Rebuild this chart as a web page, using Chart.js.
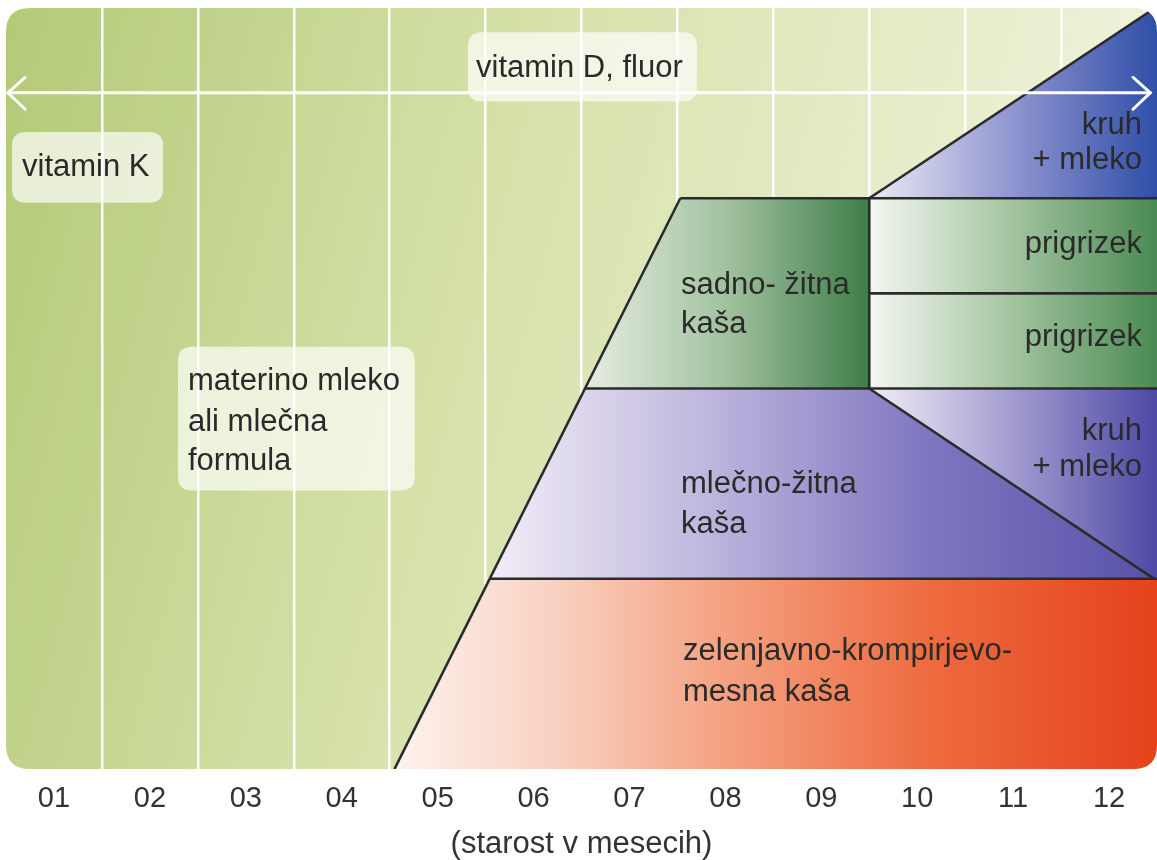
<!DOCTYPE html>
<html>
<head>
<meta charset="utf-8">
<script src="https://cdn.jsdelivr.net/npm/chart.js@4.4.1/dist/chart.umd.min.js"></script>
<style>
  html, body { margin: 0; padding: 0; background: #ffffff; }
  #wrap { width: 1157px; height: 860px; }
</style>
</head>
<body>
<div id="wrap"><canvas id="c" width="1157" height="860"></canvas></div>
<script>
// ---------------- data (months on x, pyramid level on y) ----------------
const monthLabels = ['01','02','03','04','05','06','07','08','09','10','11','12'];
const axisTitle = '(starost v mesecih)';

// pyramid layers (polygons, x = month, y = level)
const zelenjavnaKasa  = [{x:4.05,y:0},{x:5.04,y:25},{x:12,y:25},{x:12,y:0}];
const mlecnoZitnaKasa = [{x:5.04,y:25},{x:6.04,y:50},{x:9,y:50},{x:11.97,y:25}];
const kruhMlekoSpodaj = [{x:9,y:50},{x:12,y:50},{x:12,y:25},{x:11.97,y:25}];
const sadnoZitnaKasa  = [{x:6.04,y:50},{x:7.03,y:75},{x:9,y:75},{x:9,y:50}];
const prigrizekZgoraj = [{x:9,y:62.5},{x:9,y:75},{x:12,y:75},{x:12,y:62.5}];
const prigrizekSpodaj = [{x:9,y:50},{x:9,y:62.5},{x:12,y:62.5},{x:12,y:50}];
const kruhMlekoZgoraj = [{x:9,y:75},{x:11.98,y:100},{x:12,y:100},{x:12,y:75}];

// outline segments
const edgeSlant   = [{x:4.05,y:0},{x:7.03,y:75}];
const edge25      = [{x:5.04,y:25},{x:12,y:25}];
const edge50      = [{x:6.04,y:50},{x:12,y:50}];
const edge625     = [{x:9,y:62.5},{x:12,y:62.5}];
const edge75      = [{x:7.03,y:75},{x:12,y:75}];
const edgeVert    = [{x:9,y:50},{x:9,y:75}];
const edgeDiagLo  = [{x:9,y:50},{x:11.97,y:25}];
const edgeDiagUp  = [{x:9,y:75},{x:11.98,y:100}];

// vitamin D arrow (whole first year)
const arrowLine  = [{x:0.02,y:88.85},{x:11.93,y:88.85}];
const arrowLeft  = [{x:0.2,y:90.9},{x:0.02,y:88.85},{x:0.2,y:86.7}];
const arrowRight = [{x:11.75,y:90.9},{x:11.93,y:88.85},{x:11.75,y:86.7}];

// ---------------- styles / annotations ----------------
const FONT = '"Liberation Sans", Arial, Helvetica, sans-serif';
const TEXT_COLOR = '#2a2a2a';
const EDGE_COLOR = '#2b2b2b';

const boxes = [
  {x0:0.063, x1:1.637, y0:83.7, y1:74.4},
  {x0:4.816, x1:7.204, y0:96.8, y1:87.7},
  {x0:1.793, x1:4.26, y0:55.5, y1:36.6}
];
const texts = [
  {t:'vitamin K', x:0.167, y:79.0, a:'left'},
  {t:'vitamin D, fluor', x:4.90, y:92.1, a:'left'},
  {t:'materino mleko', x:1.897, y:50.9, a:'left'},
  {t:'ali mlečna', x:1.897, y:45.5, a:'left'},
  {t:'formula', x:1.897, y:40.4, a:'left'},
  {t:'sadno- žitna', x:7.037, y:63.6, a:'left'},
  {t:'kaša', x:7.037, y:58.4, a:'left'},
  {t:'prigrizek', x:11.843, y:68.9, a:'right'},
  {t:'prigrizek', x:11.843, y:56.7, a:'right'},
  {t:'kruh', x:11.843, y:84.6, a:'right'},
  {t:'+ mleko', x:11.843, y:80.0, a:'right'},
  {t:'kruh', x:11.843, y:44.4, a:'right'},
  {t:'+ mleko', x:11.843, y:39.6, a:'right'},
  {t:'mlečno-žitna', x:7.037, y:37.4, a:'left'},
  {t:'kaša', x:7.037, y:32.2, a:'left'},
  {t:'zelenjavno-krompirjevo-', x:7.058, y:15.5, a:'left'},
  {t:'mesna kaša', x:7.058, y:10.1, a:'left'}
];

function roundPath(ctx, l, t, w, h, r) {
  ctx.beginPath();
  ctx.moveTo(l + r, t);
  ctx.lineTo(l + w - r, t);
  ctx.quadraticCurveTo(l + w, t, l + w, t + r);
  ctx.lineTo(l + w, t + h - r);
  ctx.quadraticCurveTo(l + w, t + h, l + w - r, t + h);
  ctx.lineTo(l + r, t + h);
  ctx.quadraticCurveTo(l, t + h, l, t + h - r);
  ctx.lineTo(l, t + r);
  ctx.quadraticCurveTo(l, t, l + r, t);
  ctx.closePath();
}

function hGrad(x0, x1, stops, fallback) {
  return (c) => {
    const chart = c.chart;
    if (!chart.chartArea || !chart.scales.x) return fallback;
    const sx = chart.scales.x;
    const g = chart.ctx.createLinearGradient(sx.getPixelForValue(x0), 0, sx.getPixelForValue(x1), 0);
    stops.forEach(s => g.addColorStop(s[0], s[1]));
    return g;
  };
}

const panelPlugin = {
  id: 'panel',
  beforeDraw(chart) {
    const {ctx, chartArea: a} = chart;
    ctx.save();
    roundPath(ctx, a.left, a.top, a.right - a.left, a.bottom - a.top, 24);
    const g = ctx.createLinearGradient(0, 0, 1157, 300);
    g.addColorStop(0, '#b3c977');
    g.addColorStop(0.45, '#d6e2aa');
    g.addColorStop(1, '#f2f4e0');
    ctx.fillStyle = g;
    ctx.fill();
    ctx.restore();
  },
  beforeDatasetsDraw(chart) {
    const {ctx, chartArea: a} = chart;
    ctx.save();
    roundPath(ctx, a.left, a.top, a.right - a.left, a.bottom - a.top, 24);
    ctx.clip();
  },
  afterDatasetsDraw(chart) {
    const ctx = chart.ctx;
    ctx.restore();
    const sx = chart.scales.x, sy = chart.scales.y;
    ctx.save();
    boxes.forEach(b => {
      const l = sx.getPixelForValue(b.x0), r = sx.getPixelForValue(b.x1);
      const t = sy.getPixelForValue(b.y0), bt = sy.getPixelForValue(b.y1);
      roundPath(ctx, l, t, r - l, bt - t, 14);
      ctx.fillStyle = 'rgba(255,255,255,0.68)';
      ctx.fill();
    });
    ctx.fillStyle = TEXT_COLOR;
    ctx.font = '31px ' + FONT;
    ctx.textBaseline = 'middle';
    texts.forEach(o => {
      ctx.textAlign = o.a;
      ctx.fillText(o.t, sx.getPixelForValue(o.x), sy.getPixelForValue(o.y));
    });
    ctx.restore();
  }
};

function fillSet(data, grad) {
  return { data, fill: 'shape', backgroundColor: grad, borderWidth: 0, pointRadius: 0, order: 10, tension: 0 };
}
function edgeSet(data) {
  return { data, fill: false, borderColor: EDGE_COLOR, borderWidth: 2.6, pointRadius: 0, order: 5, tension: 0 };
}
function arrowSet(data) {
  return { data, fill: false, borderColor: '#ffffff', borderWidth: 3, pointRadius: 0, order: 1, tension: 0, borderCapStyle: 'round', borderJoinStyle: 'miter' };
}

new Chart(document.getElementById('c'), {
  type: 'line',
  data: {
    datasets: [
      fillSet(zelenjavnaKasa, hGrad(4.1, 12, [[0,'#fdf1ec'],[0.2,'#f9d2c2'],[0.42,'#f4a383'],[0.7,'#ee6b3f'],[1,'#e5421b']], '#f08a60')),
      fillSet(mlecnoZitnaKasa, hGrad(5.1, 12, [[0,'#f1ecf6'],[0.3,'#c2badf'],[0.65,'#7f77c0'],[1,'#5852a9']], '#8a82c6')),
      fillSet(kruhMlekoSpodaj, hGrad(9, 12, [[0,'#f1eef6'],[0.45,'#aaa4d4'],[1,'#4d49a5']], '#8a82c6')),
      fillSet(sadnoZitnaKasa, hGrad(6.1, 9, [[0,'#e3ebdf'],[0.5,'#9fc09c'],[1,'#3f7d49']], '#86b083')),
      fillSet(prigrizekZgoraj, hGrad(9, 12, [[0,'#f4f7f2'],[0.45,'#abc9a7'],[1,'#4a8a53']], '#86b083')),
      fillSet(prigrizekSpodaj, hGrad(9, 12, [[0,'#f4f7f2'],[0.45,'#abc9a7'],[1,'#4a8a53']], '#86b083')),
      fillSet(kruhMlekoZgoraj, hGrad(9, 12, [[0,'#eceaf4'],[0.5,'#8f95cf'],[1,'#2f4fa8']], '#6a78c0')),
      edgeSet(edgeSlant), edgeSet(edge25), edgeSet(edge50), edgeSet(edge625), edgeSet(edge75),
      edgeSet(edgeVert), edgeSet(edgeDiagLo), edgeSet(edgeDiagUp),
      arrowSet(arrowLine), arrowSet(arrowLeft), arrowSet(arrowRight)
    ]
  },
  options: {
    responsive: false,
    devicePixelRatio: 1,
    animation: false,
    layout: { padding: { left: 6, right: 0, top: 8, bottom: 0 } },
    plugins: { legend: { display: false }, tooltip: { enabled: false } },
    scales: {
      x: {
        type: 'linear', position: 'bottom', min: 0, max: 12,
        afterBuildTicks: (s) => { s.ticks = monthLabels.map((_, i) => ({ value: i + 0.5 })); },
        ticks: {
          autoSkip: false, maxRotation: 0, padding: 15, color: '#333333',
          font: { family: FONT, size: 29, lineHeight: 1 },
          callback: (v, i) => monthLabels[i]
        },
        grid: { display: false, drawTicks: false },
        border: { display: false },
        title: { display: true, text: axisTitle, color: '#333333', font: { family: FONT, size: 31, lineHeight: 1.03 }, padding: { top: 0, bottom: 0 } }
      },
      xg: {
        type: 'linear', position: 'top', min: 0, max: 12,
        ticks: { display: false, stepSize: 1 },
        grid: {
          drawTicks: false, lineWidth: 2.5,
          color: (c) => (c.tick && c.tick.value > 0 && c.tick.value < 12) ? '#ffffff' : 'rgba(0,0,0,0)'
        },
        border: { display: false }
      },
      y: { type: 'linear', display: false, min: 0, max: 100 }
    }
  },
  plugins: [panelPlugin]
});
</script>
</body>
</html>
